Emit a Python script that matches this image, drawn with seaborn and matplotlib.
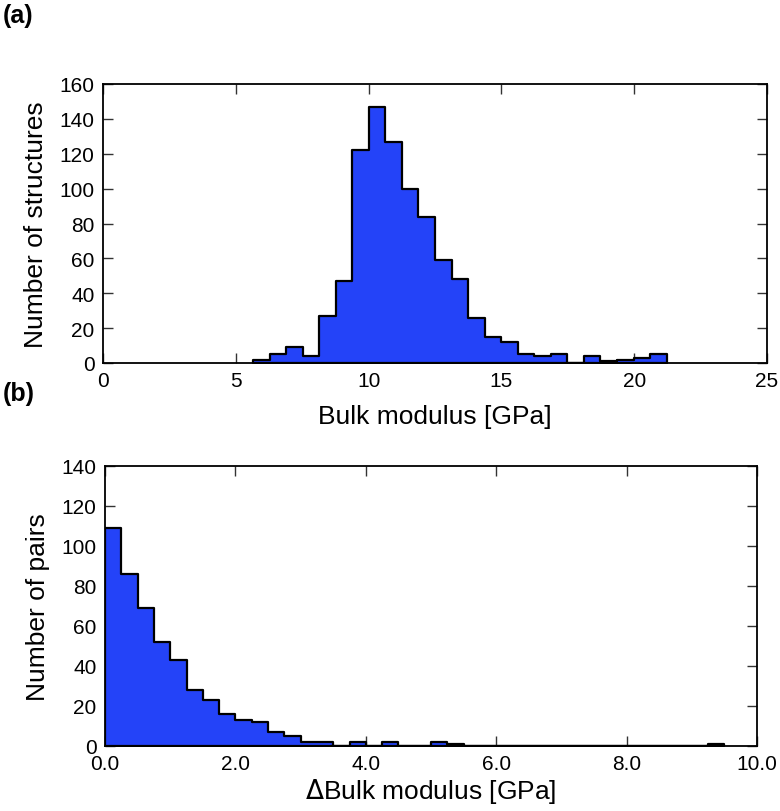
import numpy as np
import pandas as pd
import matplotlib
matplotlib.use("Agg")
import matplotlib.pyplot as plt
import seaborn as sns

# (a) bulk modulus histogram, 25 bins between data min and max
bulk_lo = 5.65
bulk_hi = 21.22
bulk_counts = [2, 5, 9, 4, 27, 47, 122, 147, 127, 100, 84, 59, 48,
               26, 15, 12, 5, 4, 5, 0, 4, 1, 2, 3, 5]

# (b) difference in bulk modulus between pairs, 0.25 GPa bins
delta_width = 0.25
delta_counts = [109, 86, 69, 52, 43, 28, 23, 16, 13, 12, 7, 5, 2, 2,
                0, 2, 0, 2, 0, 0, 2, 1, 0, 0, 0, 0, 0, 0, 0, 0,
                0, 0, 0, 0, 0, 0, 0, 1]

a_xticks = [0, 5, 10, 15, 20, 25]
a_yticks = [0, 20, 40, 60, 80, 100, 120, 140, 160]
b_xticks = [0.0, 2.0, 4.0, 6.0, 8.0, 10.0]
b_yticks = [0, 20, 40, 60, 80, 100, 120, 140]

BLUE = "#2443F8"

sns.set_style("ticks")
plt.rcParams["font.family"] = ["Liberation Sans", "DejaVu Sans"]
plt.rcParams["mathtext.fontset"] = "dejavusans"
plt.rcParams["text.color"] = "black"
plt.rcParams["axes.labelcolor"] = "black"
plt.rcParams["xtick.color"] = "black"
plt.rcParams["ytick.color"] = "black"


def hist_frame(edges, counts):
    edges = np.asarray(edges)
    centers = (edges[:-1] + edges[1:]) / 2
    return pd.DataFrame({"x": centers, "n": counts})


def draw_hist(ax, edges, counts):
    df = hist_frame(edges, counts)
    sns.histplot(data=df, x="x", weights="n", bins=list(edges), element="step",
                 fill=True, color=BLUE, alpha=1.0, edgecolor="black",
                 linewidth=1.6, ax=ax)


def style_axis(ax):
    ax.tick_params(direction="in", which="major", length=7, width=1.0,
                   top=True, right=True, labelsize=15, pad=6,
                   color="#333333", labelcolor="black")
    for sp in ax.spines.values():
        sp.set_linewidth(1.3)
        sp.set_color("black")


fig = plt.figure(figsize=(7.8, 8.12), dpi=100)

# axes boxes measured in pixels: (a) x 103-767, y 85-364 ; (b) x 105-757, y 467-747
ax1 = fig.add_axes([103 / 780, 1 - 364 / 812, 664 / 780, 279 / 812])
edges_a = np.linspace(bulk_lo, bulk_hi, len(bulk_counts) + 1)
draw_hist(ax1, edges_a, bulk_counts)
ax1.set_xlim(0, 25)
ax1.set_ylim(0, 160)
ax1.set_xticks(a_xticks)
ax1.set_yticks(a_yticks)
ax1.set_xlabel("Bulk modulus [GPa]", fontsize=19, labelpad=10)
ax1.set_ylabel("Number of structures", fontsize=19, labelpad=8)
style_axis(ax1)

ax2 = fig.add_axes([105 / 780, 1 - 747 / 812, 652 / 780, 280 / 812])
edges_b = np.arange(len(delta_counts) + 1) * delta_width
draw_hist(ax2, edges_b, delta_counts)
ax2.set_xlim(0, 10)
ax2.set_ylim(0, 140)
ax2.set_xticks(b_xticks)
ax2.set_xticklabels([f"{t:.1f}" for t in b_xticks])
ax2.set_yticks(b_yticks)
ax2.set_xlabel(r"$\Delta$Bulk modulus [GPa]", fontsize=19, labelpad=2)
ax2.set_ylabel("Number of pairs", fontsize=19, labelpad=8)
style_axis(ax2)

fig.text(0.003, 0.995, "(a)", fontsize=18, fontweight="bold", va="top")
fig.text(0.003, 0.530, "(b)", fontsize=18, fontweight="bold", va="top")

fig.savefig("out.png", dpi=100)
plt.close(fig)
